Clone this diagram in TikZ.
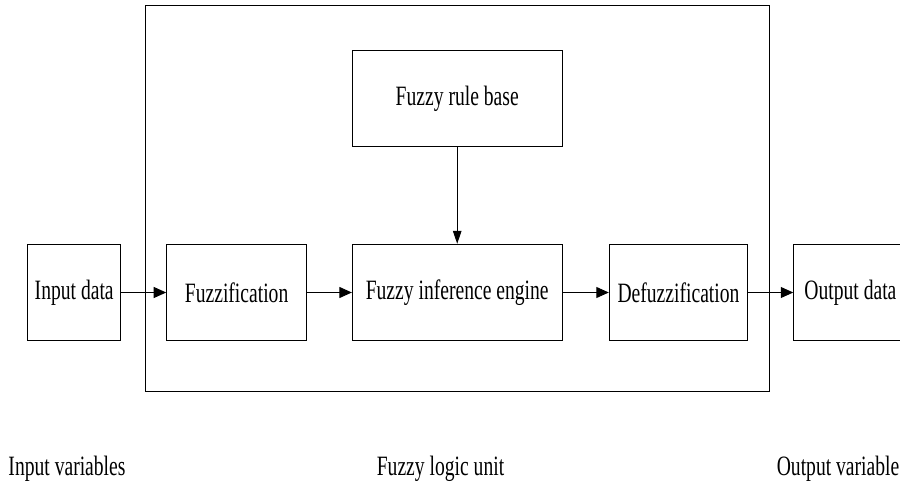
\documentclass[tikz,border=0pt]{standalone}
\usepackage{fontspec}
\setmainfont[FakeStretch=0.7]{Liberation Serif}
\usetikzlibrary{arrows.meta}
\begin{document}
\begin{tikzpicture}[x=1pt,y=-1pt,
  box/.style={draw, line width=1pt, inner sep=0pt, font=\fontsize{28}{30}\selectfont},
  lbl/.style={inner sep=0pt, font=\fontsize{28}{30}\selectfont},
  arr/.style={-{Triangle[length=12.5pt,width=11pt]}, line width=1pt},
  varr/.style={-{Triangle[length=13pt,width=8.5pt]}, line width=1pt}]
\useasboundingbox (0,0) rectangle (900,484);
\clip (0,0) rectangle (900,484);
\node[draw, line width=1pt, minimum width=624.7pt, minimum height=386pt, inner sep=0pt] (unit) at (457.35,198.7) {};
\node[box, minimum width=93pt, minimum height=96.3pt] (in) at (74.2,292.5) {Input data};
\node[box, minimum width=139.8pt, minimum height=96.3pt] (fz) at (236.6,292.5) {Fuzzification};
\node[box, minimum width=209.7pt, minimum height=96.3pt] (eng) at (457.2,292.5) {Fuzzy inference engine};
\node[box, minimum width=138.4pt, minimum height=96.3pt] (dfz) at (678.5,292.5) {Defuzzification};
\node[box, minimum width=113.3pt, minimum height=96.3pt] (out) at (850.4,292.5) {Output data};
\node[box, minimum width=209.7pt, minimum height=96.7pt] (rule) at (457.2,98.4) {Fuzzy rule base};
\draw[arr] (in) -- (fz);
\draw[arr] (fz) -- (eng);
\draw[arr] (eng) -- (dfz);
\draw[arr] (dfz) -- (out);
\draw[varr] (rule) -- (eng);
\node[lbl] (iv) at (67,469) {Input variables};
\node[lbl] (flu) at (440.5,469) {Fuzzy logic unit};
\node[lbl, anchor=east] (ov) at (899.5,469) {Output variable};
\end{tikzpicture}
\end{document}
